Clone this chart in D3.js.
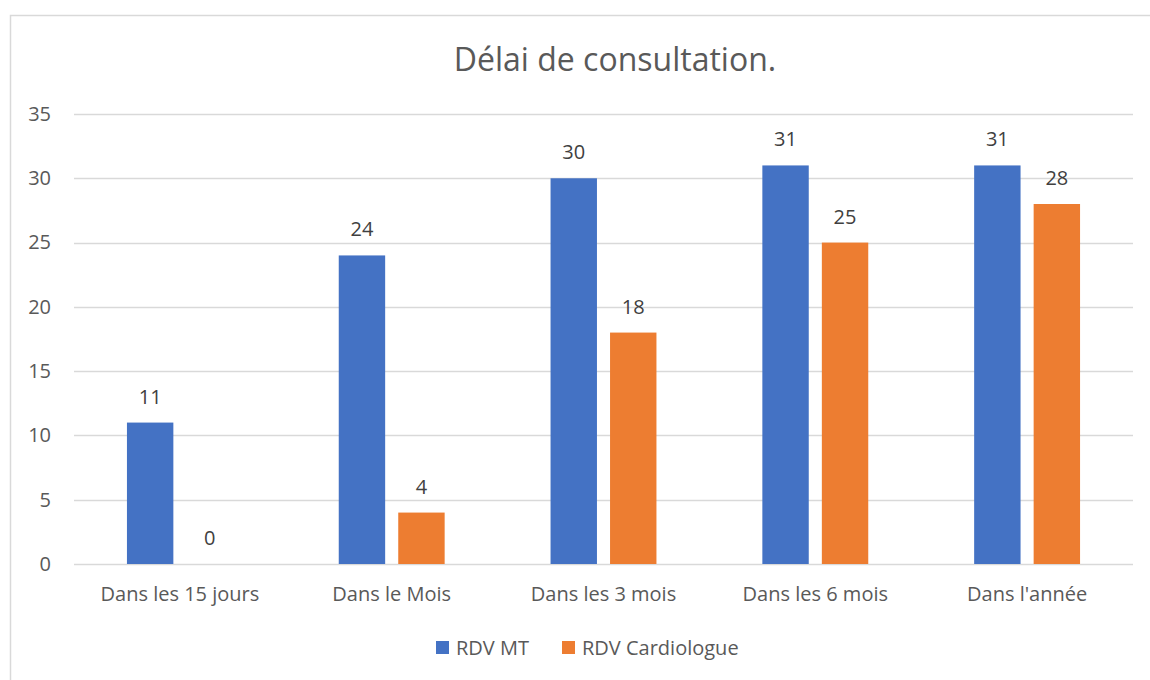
<!DOCTYPE html>
<html><head><meta charset="utf-8">
<script src="https://cdn.jsdelivr.net/npm/d3@7"></script>
<style>body{margin:0;background:#fff}svg{display:block}text{font-family:"Open Sans",sans-serif}</style>
</head><body>
<svg id="c" width="1150" height="680"></svg>
<script>
const categories = ["Dans les 15 jours","Dans le Mois","Dans les 3 mois","Dans les 6 mois","Dans l'année"];
const seriesNames = ["RDV MT","RDV Cardiologue"];
const rdvMT = [11,24,30,31,31];
const rdvCardio = [0,4,18,25,28];
const yTicks = [0,5,10,15,20,25,30,35];
const colors = ["#4472C4","#ED7D31"];
const title = "Délai de consultation.";

const svg = d3.select("#c");
svg.append("rect").attr("x",10.5).attr("y",15.5).attr("width",1150).attr("height",700)
  .attr("fill","#fff").attr("stroke","#d9d9d9").attr("stroke-width",1.5);

const L=74,R=1133,T=114,B=564;
const FS = "20px";
const x = d3.scaleBand().domain(categories).range([L,R]).paddingInner(0.5).paddingOuter(0.25);
const y = d3.scaleLinear().domain([0,35]).range([B,T]);
const xs = d3.scaleBand().domain(seriesNames).range([0,x.bandwidth()]).paddingInner(0.22);

svg.append("g").selectAll("line").data(yTicks).join("line")
  .attr("x1",L).attr("x2",R).attr("y1",d=>Math.round(y(d))+0.5).attr("y2",d=>Math.round(y(d))+0.5)
  .attr("stroke","#d9d9d9").attr("stroke-width",1.3);

const yAxis = d3.axisLeft(y).tickValues(yTicks).tickSize(0).tickPadding(0);
const gy = svg.append("g").attr("transform",`translate(51,0)`).call(yAxis);
gy.select(".domain").remove();
gy.selectAll("text").attr("fill","#595959").style("font-size",FS).style("font-family","'Open Sans',sans-serif");

const xAxis = d3.axisBottom(x).tickSize(0).tickPadding(0);
const gx = svg.append("g").attr("transform",`translate(0,${B+23})`).call(xAxis);
gx.select(".domain").remove();
gx.selectAll("text").attr("fill","#595959").style("font-size",FS).style("font-family","'Open Sans',sans-serif");

const series = [rdvMT, rdvCardio];
series.forEach((vals,si)=>{
  const g = svg.append("g");
  g.selectAll("rect").data(vals).join("rect")
    .attr("x",(d,i)=>x(categories[i])+xs(seriesNames[si]))
    .attr("width",xs.bandwidth())
    .attr("y",d=>y(d)).attr("height",d=>B-y(d))
    .attr("fill",colors[si]);
  g.selectAll("text").data(vals).join("text")
    .attr("x",(d,i)=>x(categories[i])+xs(seriesNames[si])+xs.bandwidth()/2)
    .attr("y",d=>y(d)-19)
    .attr("text-anchor","middle").attr("fill","#404040").style("font-size",FS)
    .text(d=>d);
});

svg.append("text").attr("x",615).attr("y",71).attr("text-anchor","middle")
  .attr("fill","#595959").style("font-size","32px").text(title);

const leg = svg.append("g");
const legX = [436,562];
seriesNames.forEach((n,i)=>{
  leg.append("rect").attr("x",legX[i]).attr("y",641).attr("width",13).attr("height",13).attr("fill",colors[i]);
  leg.append("text").attr("x",legX[i]+20).attr("y",655).attr("fill","#595959").style("font-size",FS).text(n);
});
</script>
</body></html>
